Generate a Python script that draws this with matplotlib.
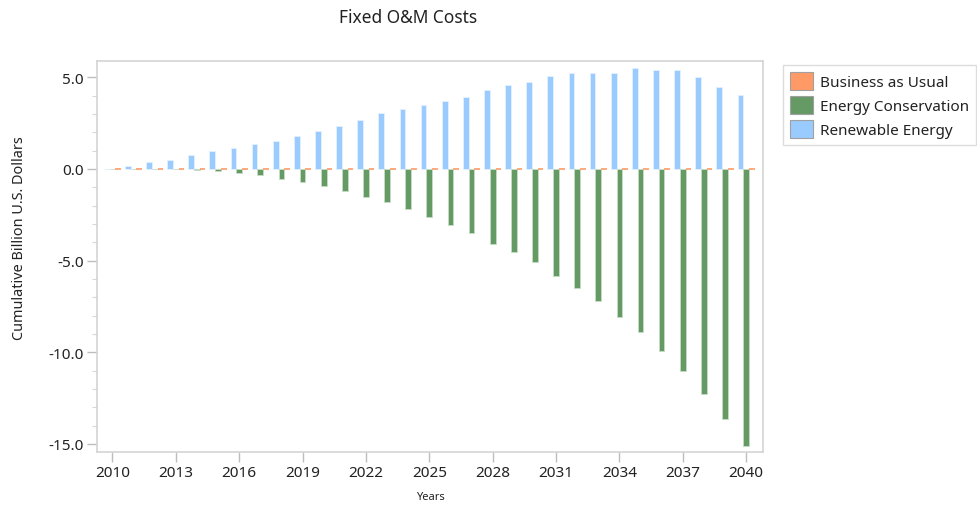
import matplotlib
matplotlib.use("Agg")
import matplotlib.pyplot as plt
import numpy as np
from matplotlib.patches import Patch
from matplotlib.ticker import MultipleLocator, FormatStrFormatter

plt.rcParams["font.family"] = ["Noto Sans", "DejaVu Sans"]

YEARS = list(range(2010, 2041))
BUSINESS_AS_USUAL = [0.0] * len(YEARS)
ENERGY_CONSERVATION = [
    0.0, -0.01, -0.01, -0.02, -0.04, -0.12, -0.24, -0.34, -0.53, -0.69,
    -0.93, -1.22, -1.53, -1.80, -2.20, -2.64, -3.04, -3.52, -4.07, -4.54,
    -5.08, -5.85, -6.47, -7.18, -8.05, -8.89, -9.91, -11.04, -12.28, -13.64,
    -15.09,
]
RENEWABLE_ENERGY = [
    0.02, 0.18, 0.38, 0.51, 0.78, 0.95, 1.13, 1.35, 1.53, 1.82,
    2.09, 2.36, 2.67, 3.07, 3.29, 3.47, 3.73, 3.91, 4.28, 4.58,
    4.76, 5.07, 5.24, 5.24, 5.24, 5.51, 5.42, 5.42, 5.00, 4.45,
    4.03,
]
SERIES = ["Business as Usual", "Energy Conservation", "Renewable Energy"]
COLORS = {"Business as Usual": "#ff9a66",
          "Energy Conservation": "#659a65",
          "Renewable Energy": "#9acbff"}

fig = plt.figure(figsize=(9.78, 5.06), dpi=100)
ax = fig.add_axes([0.0992, 0.1047, 0.6810, 0.7733])

x = np.array(YEARS, dtype=float)
w = 0.27
ax.bar(x - w, RENEWABLE_ENERGY, width=w, color=COLORS["Renewable Energy"],
       edgecolor="#e4f0ff", linewidth=0.6, zorder=2)
ax.bar(x, ENERGY_CONSERVATION, width=w, color=COLORS["Energy Conservation"],
       edgecolor="#c6dcc6", linewidth=0.6, zorder=2)
ax.bar(x + w, BUSINESS_AS_USUAL, width=w, color=COLORS["Business as Usual"],
       edgecolor=COLORS["Business as Usual"], linewidth=1.2, zorder=3)

ax.set_xlim(2009.27, 2040.8)
ax.set_ylim(-15.44, 5.9)
ax.set_xticks(range(2010, 2041, 3))
ax.yaxis.set_major_locator(MultipleLocator(5))
ax.yaxis.set_minor_locator(MultipleLocator(1))
ax.yaxis.set_major_formatter(FormatStrFormatter("%.1f"))

for s in ax.spines.values():
    s.set_color("#d4d4d4")
    s.set_linewidth(1.2)
ax.tick_params(axis="both", which="major", length=7.5, width=1,
               color="#bdbdbd", labelsize=11, labelcolor="#222222", pad=2)
ax.tick_params(axis="y", which="minor", length=3.5, width=0.8, color="#d8d8d8")

ax.set_xlabel("Years", fontsize=8, color="#222222", labelpad=8)
ax.set_ylabel("Cumulative Billion U.S. Dollars", fontsize=10.4,
              color="#222222")
ax.yaxis.set_label_coords(-0.105, 0.55)
fig.text(408 / 978, 1 - 18 / 506, "Fixed O&M Costs", ha="center", va="center",
         fontsize=12.5, color="#222222")

handles = [Patch(facecolor=COLORS[s], edgecolor="#a0a0a0", linewidth=0.8)
           for s in SERIES]
leg = fig.legend(handles, SERIES, loc="upper left",
                 bbox_to_anchor=(783 / 978, 1 - 66 / 506), fontsize=11,
                 frameon=True, fancybox=False, handlelength=1.5,
                 handleheight=1.4, handletextpad=0.5, labelspacing=0.4,
                 borderpad=0.45, borderaxespad=0)
leg.get_frame().set_edgecolor("#d4d4d4")
leg.get_frame().set_linewidth(1.0)
for t in leg.get_texts():
    t.set_color("#222222")

fig.savefig("out.png", dpi=100)
